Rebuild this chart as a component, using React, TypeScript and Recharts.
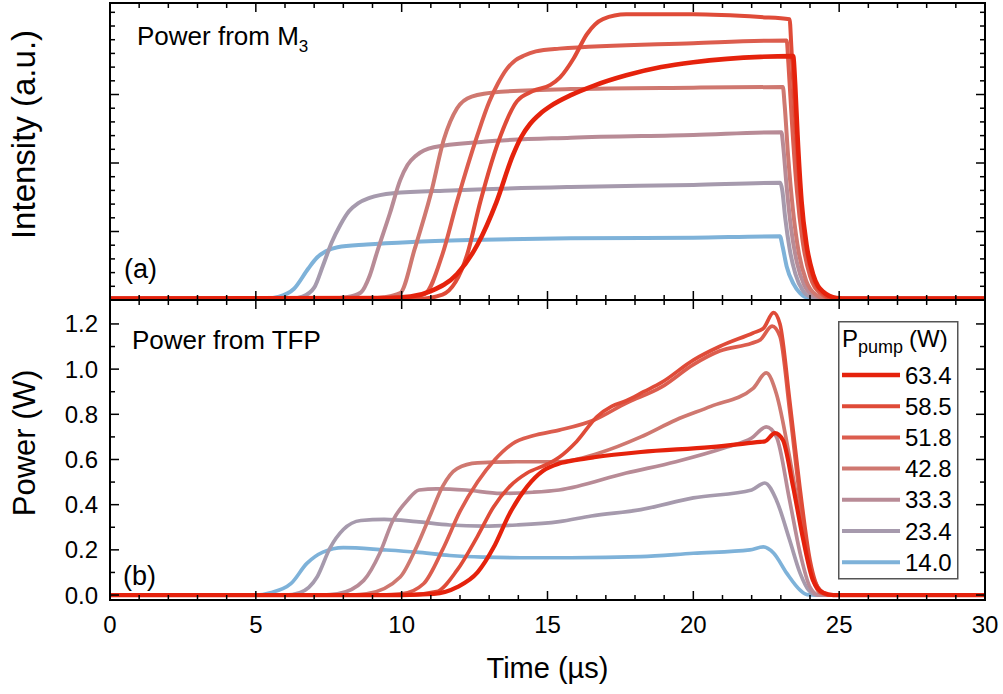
import React from 'react';
import { LineChart, Line, XAxis, YAxis, Legend } from 'recharts';

type Pt = [number, number];

const FONT = '"Liberation Sans", Arial, Helvetica, sans-serif';

// tick positions
const timeTicks = [0, 1, 2, 3, 4, 5, 6, 7, 8, 9, 10, 11, 12, 13, 14, 15, 16, 17, 18, 19, 20, 21, 22, 23, 24, 25, 26, 27, 28, 29, 30];
const intensityTicks = [0.2, 0.4, 0.6, 0.8, 1, 1.2, 1.4, 1.6, 1.8, 2, 2.2, 2.4, 2.6, 2.8, 3, 3.2, 3.4, 3.6, 3.8, 4, 4.2];
const intensityMajor = [1, 2, 3];
const powerTicks = [0, 0.1, 0.2, 0.3, 0.4, 0.5, 0.6, 0.7, 0.8, 0.9, 1.0, 1.1, 1.2];
const powerLabels = ['0.0', '', '0.2', '', '0.4', '', '0.6', '', '0.8', '', '1.0', '', '1.2'];

// (a) power from M3, arbitrary units, [time us, intensity]
const m3_140: Pt[] = [[0, 0.02], [5.3, 0.02], [5.8, 0.05], [6.3, 0.16], [6.8, 0.46], [7.1, 0.62], [7.4, 0.71], [7.8, 0.77], [8.8, 0.81], [10.5, 0.85], [12.8, 0.88], [15.8, 0.9], [20, 0.91], [22.97, 0.93], [23.06, 0.78], [23.2, 0.49], [23.43, 0.24], [23.66, 0.1], [23.94, 0.03], [24.3, 0.02], [30, 0.02]];
const m3_234: Pt[] = [[0, 0.02], [6.2, 0.02], [6.6, 0.05], [7.0, 0.18], [7.3, 0.5], [7.6, 0.84], [7.9, 1.1], [8.2, 1.3], [8.5, 1.41], [8.9, 1.49], [9.7, 1.56], [11.7, 1.6], [15.8, 1.65], [20, 1.68], [22.98, 1.71], [23.05, 1.6], [23.15, 1.2], [23.3, 0.75], [23.5, 0.38], [23.75, 0.14], [24.05, 0.04], [24.4, 0.02], [30, 0.02]];
const m3_333: Pt[] = [[0, 0.02], [7.5, 0.02], [8.1, 0.04], [8.6, 0.11], [8.9, 0.35], [9.15, 0.69], [9.6, 1.27], [9.95, 1.75], [10.2, 1.97], [10.5, 2.11], [11.1, 2.23], [12.8, 2.31], [15.8, 2.37], [20, 2.41], [23.02, 2.45], [23.08, 2.25], [23.2, 1.65], [23.35, 1.05], [23.55, 0.55], [23.8, 0.22], [24.1, 0.07], [24.5, 0.02], [30, 0.02]];
const m3_428: Pt[] = [[0, 0.02], [8.8, 0.02], [9.4, 0.04], [9.95, 0.1], [10.45, 0.75], [11.0, 1.55], [11.45, 2.35], [11.9, 2.8], [12.4, 2.97], [13.4, 3.04], [15.8, 3.08], [20, 3.1], [23.07, 3.11], [23.13, 2.85], [23.25, 2.1], [23.42, 1.3], [23.62, 0.68], [23.87, 0.28], [24.2, 0.08], [24.6, 0.02], [30, 0.02]];
const m3_518: Pt[] = [[0, 0.02], [10.0, 0.02], [10.8, 0.09], [11.4, 0.67], [11.9, 1.44], [12.6, 2.41], [13.0, 2.89], [13.3, 3.16], [13.6, 3.37], [13.9, 3.5], [14.2, 3.57], [14.6, 3.63], [15.4, 3.67], [20, 3.75], [23.2, 3.79], [23.26, 3.45], [23.38, 2.6], [23.55, 1.6], [23.75, 0.85], [24.0, 0.35], [24.35, 0.1], [24.75, 0.02], [30, 0.02]];
const m3_585: Pt[] = [[0, 0.02], [10.6, 0.02], [11.4, 0.08], [12.25, 0.67], [12.7, 1.44], [13.4, 2.41], [13.95, 2.9], [14.5, 3.05], [15.1, 3.14], [15.43, 3.25], [15.9, 3.53], [16.35, 3.88], [16.9, 4.1], [17.7, 4.17], [20, 4.17], [22.3, 4.13], [23.3, 4.1], [23.36, 3.7], [23.47, 2.8], [23.63, 1.75], [23.82, 0.92], [24.05, 0.4], [24.4, 0.11], [24.8, 0.02], [30, 0.02]];
const m3_634: Pt[] = [[0, 0.02], [9.5, 0.03], [10.3, 0.05], [11.0, 0.13], [11.9, 0.38], [12.6, 0.81], [13.25, 1.43], [13.8, 2.1], [14.1, 2.38], [14.4, 2.57], [14.75, 2.72], [15.1, 2.83], [15.8, 2.99], [16.6, 3.13], [17.7, 3.28], [18.9, 3.4], [20, 3.47], [21.15, 3.52], [22.3, 3.55], [23.42, 3.56], [23.49, 3.15], [23.57, 2.42], [23.71, 1.44], [23.88, 0.81], [24.11, 0.37], [24.45, 0.12], [24.91, 0.03], [25.3, 0.02], [30, 0.02]];

// (b) power from TFP, W, [time us, power]
const tfp_140: Pt[] = [[0, 0], [5.0, 0], [5.5, 0.01], [6.2, 0.05], [6.75, 0.14], [7.3, 0.19], [8.0, 0.21], [9.4, 0.2], [10.5, 0.19], [11.65, 0.175], [12.8, 0.168], [14.5, 0.165], [15.8, 0.165], [18.2, 0.17], [20, 0.185], [21.94, 0.2], [22.4, 0.213], [22.75, 0.186], [23.2, 0.097], [23.66, 0.022], [23.9, 0.002], [24.2, 0], [30, 0]];
const tfp_234: Pt[] = [[0, 0], [6.0, 0], [6.5, 0.01], [7.1, 0.08], [7.55, 0.21], [8.0, 0.29], [8.6, 0.33], [9.4, 0.335], [10.5, 0.325], [11.65, 0.31], [12.8, 0.305], [13.95, 0.31], [15.4, 0.325], [16.5, 0.35], [18.2, 0.378], [20.0, 0.43], [22.0, 0.465], [22.45, 0.496], [22.85, 0.42], [23.3, 0.244], [23.66, 0.097], [23.95, 0.022], [24.25, 0], [30, 0]];
const tfp_333: Pt[] = [[0, 0], [7.3, 0], [7.8, 0.005], [8.7, 0.065], [9.25, 0.185], [9.7, 0.33], [10.2, 0.42], [10.6, 0.465], [11.2, 0.47], [12.2, 0.465], [13.4, 0.45], [14.5, 0.455], [15.4, 0.465], [17.7, 0.54], [19.4, 0.59], [21.15, 0.655], [22.0, 0.695], [22.5, 0.744], [22.85, 0.7], [23.3, 0.42], [23.66, 0.186], [24.0, 0.035], [24.3, 0], [30, 0]];
const tfp_428: Pt[] = [[0, 0], [8.3, 0], [8.8, 0.005], [9.95, 0.08], [10.5, 0.21], [11.0, 0.36], [11.4, 0.48], [11.9, 0.56], [12.6, 0.585], [13.95, 0.59], [15.4, 0.59], [16.8, 0.63], [18.2, 0.7], [19.4, 0.775], [20.6, 0.835], [22.05, 0.915], [22.5, 0.983], [22.85, 0.89], [23.3, 0.61], [23.66, 0.345], [24.0, 0.124], [24.35, 0.022], [24.7, 0], [30, 0]];
const tfp_518: Pt[] = [[0, 0], [9.3, 0], [10.0, 0.005], [10.75, 0.05], [11.4, 0.2], [12.0, 0.37], [12.6, 0.5], [13.2, 0.6], [13.8, 0.67], [14.5, 0.705], [15.4, 0.73], [16.6, 0.775], [17.7, 0.85], [18.9, 0.92], [20.0, 1.02], [20.9, 1.08], [22.0, 1.115], [22.3, 1.13], [22.7, 1.19], [22.97, 1.145], [23.3, 0.82], [23.65, 0.435], [24.0, 0.125], [24.35, 0.01], [24.7, 0], [30, 0]];
const tfp_585: Pt[] = [[0, 0], [10.2, 0], [11.2, 0.015], [11.9, 0.11], [12.6, 0.26], [13.15, 0.39], [13.7, 0.48], [14.3, 0.54], [15.0, 0.58], [15.4, 0.61], [16.0, 0.68], [16.7, 0.79], [17.2, 0.835], [17.7, 0.86], [18.3, 0.9], [18.9, 0.94], [20.0, 1.04], [20.9, 1.1], [22.05, 1.16], [22.4, 1.18], [22.75, 1.25], [22.97, 1.2], [23.3, 0.865], [23.65, 0.48], [24.0, 0.155], [24.35, 0.02], [24.7, 0], [30, 0]];
const tfp_634: Pt[] = [[0, 0], [10.0, 0], [11.1, 0.005], [11.9, 0.035], [12.6, 0.1], [13.15, 0.21], [13.7, 0.36], [14.3, 0.48], [14.85, 0.55], [15.4, 0.582], [16.0, 0.598], [16.6, 0.61], [18.2, 0.633], [20.6, 0.655], [22.3, 0.678], [22.45, 0.68], [22.8, 0.717], [23.07, 0.686], [23.42, 0.48], [23.77, 0.244], [24.1, 0.066], [24.45, 0.01], [24.8, 0], [30, 0]];

// pump powers, drawn bottom-up so 63.4 W sits on top
const pumpNames = ['14.0', '23.4', '33.3', '42.8', '51.8', '58.5', '63.4'];
const pumpColors = ['#7eb2d9', '#a69aad', '#b88b96', '#cf7870', '#dc5d4e', '#df4b38', '#e5220c'];
const m3Sets = [m3_140, m3_234, m3_333, m3_428, m3_518, m3_585, m3_634];
const tfpSets = [tfp_140, tfp_234, tfp_333, tfp_428, tfp_518, tfp_585, tfp_634];

const toRows = (pts: Pt[]) => pts.map(([t, v]) => ({ t, v }));

const series = pumpNames.map((name, i) => ({
  name,
  color: pumpColors[i],
  m3: toRows(m3Sets[i]),
  tfp: toRows(tfpSets[i]),
  bold: name === '63.4',
}));

const frame = { stroke: '#000', strokeWidth: 2, strokeLinecap: 'square' as const };

// ticks point into the plot; dir is +1 / -1
const xTick = (dir: number, labels: boolean) => (props: any) => {
  const { x, y, payload } = props;
  const major = payload.value % 5 === 0;
  return (
    <g>
      <line x1={x} x2={x} y1={y} y2={y + dir * (major ? 9 : 5)} stroke="#000" strokeWidth={1.5} />
      {labels && major && (
        <text x={x} y={y + 33} textAnchor="middle" fontSize={24} fontFamily={FONT} fill="#000">
          {payload.value}
        </text>
      )}
    </g>
  );
};

const intensityTick = (dir: number) => (props: any) => {
  const { x, y, payload } = props;
  const major = intensityMajor.includes(payload.value);
  return <line x1={x} x2={x + dir * (major ? 9 : 5)} y1={y} y2={y} stroke="#000" strokeWidth={1.5} />;
};

const powerTick = (dir: number, labels: boolean) => (props: any) => {
  const { x, y, index } = props;
  const label = powerLabels[index] ?? '';
  return (
    <g>
      <line x1={x} x2={x + dir * (label ? 9 : 5)} y1={y} y2={y} stroke="#000" strokeWidth={1.5} />
      {labels && label && (
        <text x={x - 12} y={y + 8.5} textAnchor="end" fontSize={24} fontFamily={FONT} fill="#000">
          {label}
        </text>
      )}
    </g>
  );
};

const yTitle = (text: string, shift: number, size: number) => (props: any) => {
  const vb = props.viewBox;
  const cy = vb.y + vb.height / 2 + shift;
  return (
    <text x={35} y={cy} transform={`rotate(-90, 35, ${cy})`} textAnchor="middle" fontSize={size} fontFamily={FONT} fill="#000">
      {text}
    </text>
  );
};

const timeTitle = (props: any) => {
  const vb = props.viewBox;
  return (
    <text x={vb.x + vb.width / 2} y={vb.y + 78} textAnchor="middle" fontSize={29} fontFamily={FONT} fill="#000">
      Time (µs)
    </text>
  );
};

const PumpLegend = () => {
  const rows = [...series].reverse();
  return (
    <svg width={122} height={260} style={{ display: 'block' }}>
      <rect x={0.75} y={0.75} width={119} height={257} fill="#fff" stroke="#555" strokeWidth={1.5} />
      <text x={4} y={26} fontSize={24} fontFamily={FONT} fill="#000">
        P<tspan fontSize={18} dy={6}>pump</tspan>
        <tspan fontSize={24} dx={6} dy={-6}>(W)</tspan>
      </text>
      {rows.map((s, i) => {
        const cy = 54 + i * 31.2;
        return (
          <g key={s.name}>
            <line x1={4} x2={62} y1={cy} y2={cy} stroke={s.color} strokeWidth={s.bold ? 4.5 : 4} />
            <text x={67} y={cy + 8.5} fontSize={24} fontFamily={FONT} fill="#000">
              {s.name}
            </text>
          </g>
        );
      })}
    </svg>
  );
};

export default function App() {
  return (
    <div style={{ position: 'absolute', left: 0, top: 0, width: 1003, height: 694, background: '#fff', fontFamily: FONT }}>
      {/* (a) intensity from M3 */}
      <div style={{ position: 'absolute', left: 0, top: 0 }}>
        <LineChart width={1003} height={303} margin={{ top: 0, right: 0, bottom: 0, left: 0 }}>
          <XAxis xAxisId="bot" dataKey="t" type="number" domain={[0, 30]} ticks={timeTicks} interval={0}
            orientation="bottom" height={3} tickSize={0} tickMargin={0} tickLine={false} axisLine={frame}
            tick={xTick(-1, false)} allowDataOverflow />
          <XAxis xAxisId="top" dataKey="t" type="number" domain={[0, 30]} ticks={timeTicks} interval={0}
            orientation="top" height={3} tickSize={0} tickMargin={0} tickLine={false} axisLine={frame}
            tick={xTick(1, false)} allowDataOverflow />
          <YAxis yAxisId="left" type="number" domain={[0, 4.336]} ticks={intensityTicks} interval={0}
            orientation="left" width={110} tickSize={0} tickMargin={0} tickLine={false} axisLine={frame}
            tick={intensityTick(1)} allowDataOverflow label={{ content: yTitle('Intensity (a.u.)', -17, 33) }} />
          <YAxis yAxisId="right" type="number" domain={[0, 4.336]} ticks={intensityTicks} interval={0}
            orientation="right" width={18} tickSize={0} tickMargin={0} tickLine={false} axisLine={frame}
            tick={intensityTick(-1)} allowDataOverflow />
          {series.map((s) => (
            <Line key={s.name} xAxisId="bot" yAxisId="left" data={s.m3} dataKey="v" name={s.name}
              type="monotone" stroke={s.color} strokeWidth={s.bold ? 4.6 : 4} dot={false}
              activeDot={false} isAnimationActive={false} strokeLinejoin="round" />
          ))}
        </LineChart>
      </div>

      {/* (b) power from TFP */}
      <div style={{ position: 'absolute', left: 0, top: 297 }}>
        <LineChart width={1003} height={397} margin={{ top: 0, right: 0, bottom: 0, left: 0 }}>
          <XAxis xAxisId="bot" dataKey="t" type="number" domain={[0, 30]} ticks={timeTicks} interval={0}
            orientation="bottom" height={94} tickSize={0} tickMargin={0} tickLine={false} axisLine={frame}
            tick={xTick(-1, true)} allowDataOverflow label={{ content: timeTitle }} />
          <XAxis xAxisId="top" dataKey="t" type="number" domain={[0, 30]} ticks={timeTicks} interval={0}
            orientation="top" height={3} tickSize={0} tickMargin={0} tickLine={false} axisLine={frame}
            tick={xTick(1, false)} allowDataOverflow />
          <YAxis yAxisId="left" type="number" domain={[-0.022, 1.306]} ticks={powerTicks} interval={0}
            orientation="left" width={110} tickSize={0} tickMargin={0} tickLine={false} axisLine={frame}
            tick={powerTick(1, true)} allowDataOverflow label={{ content: yTitle('Power (W)', -7, 31) }} />
          <YAxis yAxisId="right" type="number" domain={[-0.022, 1.306]} ticks={powerTicks} interval={0}
            orientation="right" width={18} tickSize={0} tickMargin={0} tickLine={false} axisLine={frame}
            tick={powerTick(-1, false)} allowDataOverflow />
          {series.map((s) => (
            <Line key={s.name} xAxisId="bot" yAxisId="left" data={s.tfp} dataKey="v" name={s.name}
              type="monotone" stroke={s.color} strokeWidth={s.bold ? 4.2 : 3.7} dot={false}
              activeDot={false} isAnimationActive={false} strokeLinejoin="round" />
          ))}
          <Legend layout="horizontal" verticalAlign="middle" align="center"
            wrapperStyle={{ left: 838, top: 24, width: 122, height: 260 }} content={() => <PumpLegend />} />
        </LineChart>
      </div>

      {/* panel annotations */}
      <svg width={1003} height={694} style={{ position: 'absolute', left: 0, top: 0, pointerEvents: 'none' }}>
        <text x={137} y={45} fontSize={26} fontFamily={FONT} fill="#000">
          Power from M<tspan fontSize={17} dy={7}>3</tspan>
        </text>
        <text x={124} y={278} fontSize={27} fontFamily={FONT} fill="#000">(a)</text>
        <text x={132} y={349} fontSize={26} fontFamily={FONT} fill="#000">Power from TFP</text>
        <text x={123} y={585} fontSize={27} fontFamily={FONT} fill="#000">(b)</text>
      </svg>
    </div>
  );
}
